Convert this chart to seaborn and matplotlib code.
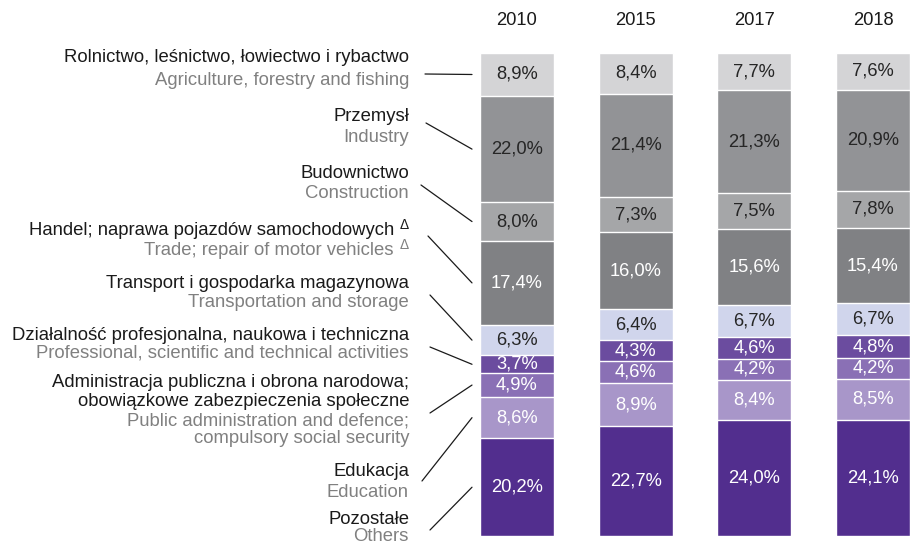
import matplotlib
matplotlib.use('Agg')
import matplotlib.pyplot as plt
import numpy as np
import seaborn as sns

years = ['2010', '2015', '2017', '2018']

# shares per sector, from top of the stack to the bottom
agriculture = [8.9, 8.4, 7.7, 7.6]
industry = [22.0, 21.4, 21.3, 20.9]
construction = [8.0, 7.3, 7.5, 7.8]
trade = [17.4, 16.0, 15.6, 15.4]
transport = [6.3, 6.4, 6.7, 6.7]
professional = [3.7, 4.3, 4.6, 4.8]
public_admin = [4.9, 4.6, 4.2, 4.2]
education = [8.6, 8.9, 8.4, 8.5]
others = [20.2, 22.7, 24.0, 24.1]

series = [agriculture, industry, construction, trade, transport,
          professional, public_admin, education, others]

labels_pl = [['Rolnictwo, leśnictwo, łowiectwo i rybactwo'], ['Przemysł'], ['Budownictwo'],
             ['Handel; naprawa pojazdów samochodowych'], ['Transport i gospodarka magazynowa'],
             ['Działalność profesjonalna, naukowa i techniczna'],
             ['Administracja publiczna i obrona narodowa;', 'obowiązkowe zabezpieczenia społeczne'],
             ['Edukacja'], ['Pozostałe']]
labels_en = [['Agriculture, forestry and fishing'], ['Industry'], ['Construction'],
             ['Trade; repair of motor vehicles'], ['Transportation and storage'],
             ['Professional, scientific and technical activities'],
             ['Public administration and defence;', 'compulsory social security'],
             ['Education'], ['Others']]
delta_mark = [False, False, False, True, False, False, False, False, False]

colors = ['#d4d4d6', '#929396', '#a5a6a8', '#808184', '#d0d5ec',
          '#6b4c9f', '#8a70b5', '#a896c9', '#522e8e']
text_colors = ['#262626', '#262626', '#262626', 'white', '#262626',
               'white', 'white', 'white', 'white']

# label layout (pixels from top of the figure)
pl_baselines = [[62], [121], [178], [235], [288], [340], [387, 406], [476], [524]]
en_baselines = [[85], [142], [198], [255], [307], [358], [425, 443], [497], [541]]
line_starts = [(425, 74), (426, 123), (421, 185), (428, 236), (430, 295),
               (430, 347), (430, 413), (422, 481), (430, 530)]

W, H = 910, 544
sns.set_style('white')
plt.rcParams['font.family'] = ['Liberation Sans', 'DejaVu Sans']

fig = plt.figure(figsize=(W / 100, H / 100), dpi=100)
ax = fig.add_axes([472 / W, (H - 536) / H, (W - 472) / W, (536 - 53) / H])

# stacked bars: draw cumulative totals, largest first
vals = np.array(series)
bottoms = vals[::-1].cumsum(axis=0)[::-1] - vals  # bottom of each segment
for k in range(len(series)):
    sns.barplot(x=years, y=bottoms[k] + vals[k], order=years, color=colors[k],
                saturation=1, width=0.624, edgecolor='white', linewidth=1,
                errorbar=None, ax=ax)

for k in range(len(series)):
    for i in range(len(years)):
        v = vals[k, i]
        ax.text(i, bottoms[k, i] + v / 2, f'{v:.1f}%'.replace('.', ','),
                ha='center', va='center', fontsize=13.2, color=text_colors[k])

ax.set_xlim(-0.379, 3.312)
ax.set_ylim(0, 100)
ax.xaxis.tick_top()
ax.tick_params(axis='x', length=0, pad=17, labelsize=13.2, labelcolor='#1a1a1a')
ax.set_yticks([])
ax.set_xlabel('')
ax.set_ylabel('')
sns.despine(ax=ax, left=True, bottom=True)

# sector labels and leader lines
tx = 409 / W
for k in range(len(series)):
    right = tx - (15 / W if delta_mark[k] else 0)
    for line, b in zip(labels_pl[k], pl_baselines[k]):
        fig.text(right, 1 - b / H, line, ha='right', va='baseline',
                 fontsize=13.3, color='#1a1a1a')
        if delta_mark[k]:
            fig.text(tx, 1 - (b - 6) / H, 'Δ', ha='right', va='baseline',
                     fontsize=10, color='#1a1a1a')
    for line, b in zip(labels_en[k], en_baselines[k]):
        fig.text(right, 1 - b / H, line, ha='right', va='baseline',
                 fontsize=13.3, color='#808080')
        if delta_mark[k]:
            fig.text(tx, 1 - (b - 6) / H, 'Δ', ha='right', va='baseline',
                     fontsize=10, color='#808080')
    sx, sy = line_starts[k]
    ax.annotate('', xy=(0, bottoms[k, 0] + vals[k, 0] / 2),
                xycoords=('axes fraction', 'data'),
                xytext=(sx / W, 1 - sy / H), textcoords='figure fraction',
                arrowprops=dict(arrowstyle='-', color='#1a1a1a', lw=0.9,
                                shrinkA=0, shrinkB=0),
                annotation_clip=False)

fig.savefig('out.png', dpi=100)
plt.close(fig)
